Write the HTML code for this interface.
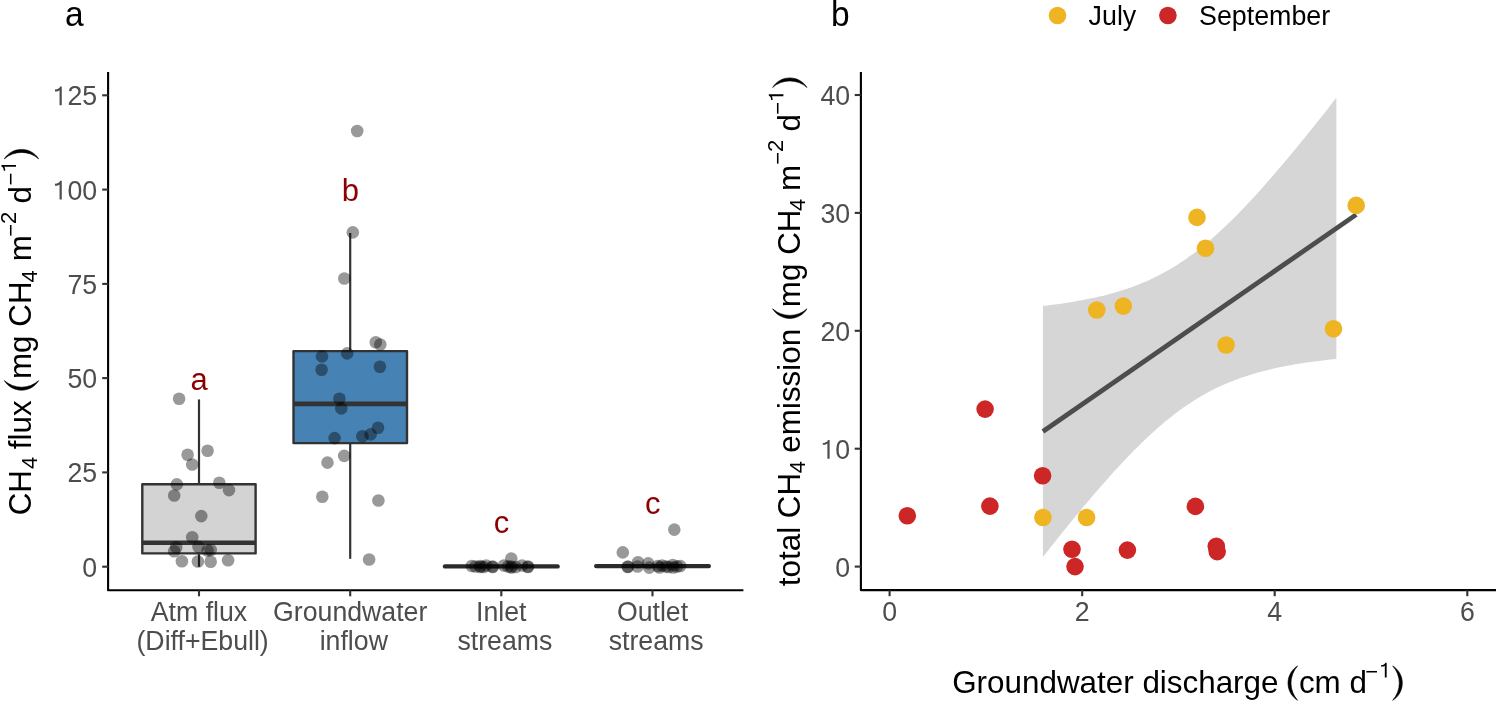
<!DOCTYPE html>
<html><head><meta charset="utf-8"><style>
html,body{margin:0;padding:0;background:#fff;}
svg{display:block;will-change:transform;}
text{font-family:"Liberation Sans", sans-serif;}
</style></head><body>
<svg width="1496" height="701" viewBox="0 0 1496 701">
<rect width="1496" height="701" fill="#fff"/>
<!-- panel labels -->
<text transform="translate(65.0,25.6) scale(1,1.02)" font-size="33.5" fill="#000">a</text>
<text transform="translate(830.9,25.5) scale(1,1.03)" font-size="33.5" fill="#000">b</text>
<!-- LEFT PANEL -->
<line x1="199" y1="399.4" x2="199" y2="484.2" stroke="#333" stroke-width="2.2"/>
<line x1="199" y1="553.4" x2="199" y2="566.8" stroke="#333" stroke-width="2.2"/>
<rect x="142.3" y="484.2" width="113.3" height="69.2" fill="#D3D3D3" stroke="#333" stroke-width="2.4" stroke-linejoin="round"/>
<line x1="142.3" y1="542.7" x2="255.6" y2="542.7" stroke="#333" stroke-width="4.6"/>
<line x1="350.2" y1="233" x2="350.2" y2="351.1" stroke="#333" stroke-width="2.2"/>
<line x1="350.2" y1="443.1" x2="350.2" y2="558.8" stroke="#333" stroke-width="2.2"/>
<rect x="293.5" y="351.1" width="113.5" height="92.0" fill="#4682B4" stroke="#333" stroke-width="2.4" stroke-linejoin="round"/>
<line x1="293.5" y1="403.9" x2="407" y2="403.9" stroke="#333" stroke-width="4.6"/>
<line x1="445" y1="566.4" x2="557.6" y2="566.4" stroke="#2b2b2b" stroke-width="4.4" stroke-linecap="round"/>
<line x1="596.2" y1="566.1" x2="708.8" y2="566.1" stroke="#2b2b2b" stroke-width="4.4" stroke-linecap="round"/>
<g fill="#000" fill-opacity="0.4">
<circle cx="179.1" cy="398.8" r="6.3"/><circle cx="187.6" cy="454.8" r="6.3"/><circle cx="207.6" cy="450.8" r="6.3"/><circle cx="192.2" cy="464.5" r="6.3"/><circle cx="176.8" cy="484.4" r="6.3"/><circle cx="219.3" cy="482.7" r="6.3"/><circle cx="174.2" cy="495.5" r="6.3"/><circle cx="229" cy="490.1" r="6.3"/><circle cx="201.3" cy="516.1" r="6.3"/><circle cx="192.2" cy="537.2" r="6.3"/><circle cx="176.2" cy="547.2" r="6.3"/><circle cx="174.2" cy="551.2" r="6.3"/><circle cx="198.5" cy="546.9" r="6.3"/><circle cx="207.6" cy="550.6" r="6.3"/><circle cx="210.7" cy="550" r="6.3"/><circle cx="181.9" cy="561.2" r="6.3"/><circle cx="197.9" cy="561.5" r="6.3"/><circle cx="210.7" cy="561.7" r="6.3"/><circle cx="228.1" cy="560.3" r="6.3"/><circle cx="357.2" cy="131" r="6.3"/><circle cx="352.8" cy="232.4" r="6.3"/><circle cx="344.3" cy="278.5" r="6.3"/><circle cx="375.8" cy="342.3" r="6.3"/><circle cx="380.3" cy="344.5" r="6.3"/><circle cx="322" cy="356.4" r="6.3"/><circle cx="347.2" cy="353.4" r="6.3"/><circle cx="321.6" cy="369.8" r="6.3"/><circle cx="379.9" cy="366.8" r="6.3"/><circle cx="339.4" cy="398.7" r="6.3"/><circle cx="341.3" cy="408.4" r="6.3"/><circle cx="378" cy="427.7" r="6.3"/><circle cx="370.6" cy="434.4" r="6.3"/><circle cx="362.4" cy="436.2" r="6.3"/><circle cx="334.6" cy="438.1" r="6.3"/><circle cx="344.2" cy="455.9" r="6.3"/><circle cx="327.5" cy="462.6" r="6.3"/><circle cx="322.3" cy="496.8" r="6.3"/><circle cx="378.4" cy="500.5" r="6.3"/><circle cx="369.1" cy="559.5" r="6.3"/><circle cx="471.8" cy="566" r="6.3"/><circle cx="475.5" cy="566.5" r="6.3"/><circle cx="480.3" cy="567" r="6.3"/><circle cx="480.3" cy="566" r="6.3"/><circle cx="483.5" cy="567" r="6.3"/><circle cx="486.2" cy="565.5" r="6.3"/><circle cx="492.6" cy="566.5" r="6.3"/><circle cx="492.6" cy="567" r="6.3"/><circle cx="503.9" cy="565.5" r="6.3"/><circle cx="508.1" cy="566.5" r="6.3"/><circle cx="511.3" cy="558.6" r="6.3"/><circle cx="511.3" cy="566.5" r="6.3"/><circle cx="511.3" cy="567.5" r="6.3"/><circle cx="515.6" cy="567" r="6.3"/><circle cx="522" cy="565.5" r="6.3"/><circle cx="527.9" cy="566.5" r="6.3"/><circle cx="527.9" cy="567" r="6.3"/><circle cx="622.8" cy="552.4" r="6.3"/><circle cx="627.8" cy="566.6" r="6.3"/><circle cx="627.8" cy="567" r="6.3"/><circle cx="638" cy="562.3" r="6.3"/><circle cx="637.5" cy="566.5" r="6.3"/><circle cx="648.2" cy="563.4" r="6.3"/><circle cx="649.2" cy="567.6" r="6.3"/><circle cx="657.8" cy="566" r="6.3"/><circle cx="659.4" cy="567.5" r="6.3"/><circle cx="662" cy="565.5" r="6.3"/><circle cx="665.8" cy="566.5" r="6.3"/><circle cx="668.5" cy="567" r="6.3"/><circle cx="672.8" cy="565" r="6.3"/><circle cx="673.3" cy="567.5" r="6.3"/><circle cx="677" cy="566.5" r="6.3"/><circle cx="680.2" cy="566" r="6.3"/><circle cx="674.3" cy="529.6" r="6.3"/>
</g>
<g fill="#8B0000" font-size="31.0" text-anchor="middle">
<text x="199" y="389.5">a</text>
<text x="350.3" y="201.3">b</text>
<text x="501.4" y="532.8">c</text>
<text x="652.8" y="514">c</text>
</g>
<g stroke="#000" stroke-width="2.1" fill="none">
<path d="M108.1,72 L108.1,590.2 L743.4,590.2" stroke-linejoin="round"/>
</g>
<g stroke="#333" stroke-width="2.1">
<line x1="102.2" y1="566.7" x2="108.3" y2="566.7"/><line x1="102.2" y1="472.4" x2="108.3" y2="472.4"/><line x1="102.2" y1="378.1" x2="108.3" y2="378.1"/><line x1="102.2" y1="283.9" x2="108.3" y2="283.9"/><line x1="102.2" y1="189.6" x2="108.3" y2="189.6"/><line x1="102.2" y1="95.3" x2="108.3" y2="95.3"/>
<line x1="199.0" y1="590.2" x2="199.0" y2="596.3"/><line x1="350.2" y1="590.2" x2="350.2" y2="596.3"/><line x1="501.3" y1="590.2" x2="501.3" y2="596.3"/><line x1="652.5" y1="590.2" x2="652.5" y2="596.3"/>
</g>
<g fill="#4D4D4D" font-size="26.7" text-anchor="end">
<text transform="translate(97.2,576.7) scale(1,1.06)">0</text><text transform="translate(97.2,482.4) scale(1,1.06)">25</text><text transform="translate(97.2,388.1) scale(1,1.06)">50</text><text transform="translate(97.2,293.9) scale(1,1.06)">75</text><path transform="translate(52.66,199.60) scale(26.7,28.302)" d="M0.258,0 L0.341,0 L0.341,-0.662 L0.280,-0.662 C0.262,-0.606 0.200,-0.556 0.086,-0.556 L0.086,-0.490 C0.170,-0.490 0.232,-0.505 0.258,-0.535 Z" fill="#4D4D4D"/><text transform="translate(97.2,199.6) scale(1,1.06)">00</text><path transform="translate(52.66,105.30) scale(26.7,28.302)" d="M0.258,0 L0.341,0 L0.341,-0.662 L0.280,-0.662 C0.262,-0.606 0.200,-0.556 0.086,-0.556 L0.086,-0.490 C0.170,-0.490 0.232,-0.505 0.258,-0.535 Z" fill="#4D4D4D"/><text transform="translate(97.2,105.3) scale(1,1.06)">25</text>
</g>
<g fill="#4D4D4D" font-size="26.7" text-anchor="middle">
<text transform="translate(199,620.6) scale(1,1.06)">Atm flux</text><text transform="translate(202.6,649.6) scale(1,1.06)">(Diff+Ebull)</text>
<text transform="translate(350.2,620.6) scale(1,1.06)">Groundwater</text><text transform="translate(353.8,649.6) scale(1,1.06)">inflow</text>
<text transform="translate(501.3,620.6) scale(1,1.06)">Inlet</text><text transform="translate(504.9,649.6) scale(1,1.06)">streams</text>
<text transform="translate(652.5,620.6) scale(1,1.06)">Outlet</text><text transform="translate(656.1,649.6) scale(1,1.06)">streams</text>
</g>
<!-- left y title -->
<g transform="translate(31.4,0) rotate(-90)" fill="#000">
<text transform="translate(-515.3,0) scale(1,1.0)" font-size="31.4">CH</text>
<text transform="translate(-468.9,5.5) scale(1,1.0)" font-size="22.0">4</text>
<text transform="translate(-449.2,0) scale(1,1.0)" font-size="31.4">flux</text>
<path d="M-380.60,-27.10 A20.21,20.21 0 0 0 -380.60,7.30 A25.71,25.71 0 0 1 -380.60,-27.10 Z" stroke="#000" stroke-width="0.6" stroke-linejoin="round"/>
<text transform="translate(-379.1,0) scale(1,1.0)" font-size="31.4">mg CH</text>
<text transform="translate(-282.5,5.5) scale(1,1.0)" font-size="22.0">4</text>
<text transform="translate(-261.3,0) scale(1,1.0)" font-size="31.4">m</text>
<text transform="translate(-236.8,-13.6) scale(1,1.0)" font-size="22.0">−<tspan dy="-1.8">2</tspan></text>
<text transform="translate(-203.4,0) scale(1,1.0)" font-size="31.4">d</text>
<text transform="translate(-185.4,-13.6) scale(1,1.0)" font-size="22.0">−</text><path transform="translate(-172.55,-15.40) scale(22.0,22.000)" d="M0.258,0 L0.341,0 L0.341,-0.662 L0.280,-0.662 C0.262,-0.606 0.200,-0.556 0.086,-0.556 L0.086,-0.490 C0.170,-0.490 0.232,-0.505 0.258,-0.535 Z" fill="#000"/>
<path d="M-158.90,-27.10 A20.32,20.32 0 0 1 -158.90,7.30 A26.01,26.01 0 0 0 -158.90,-27.10 Z" stroke="#000" stroke-width="0.6" stroke-linejoin="round"/>
</g>
<!-- RIGHT PANEL -->
<path d="M1042.90,305.91 L1046.87,305.45 L1050.83,304.97 L1054.80,304.47 L1058.76,303.94 L1062.73,303.38 L1066.69,302.79 L1070.66,302.17 L1074.63,301.52 L1078.59,300.84 L1082.56,300.12 L1086.52,299.36 L1090.49,298.55 L1094.46,297.71 L1098.42,296.82 L1102.39,295.88 L1106.35,294.89 L1110.32,293.84 L1114.28,292.74 L1118.25,291.57 L1122.22,290.35 L1126.18,289.05 L1130.15,287.68 L1134.11,286.24 L1138.08,284.72 L1142.05,283.12 L1146.01,281.43 L1149.98,279.65 L1153.94,277.78 L1157.91,275.82 L1161.87,273.75 L1165.84,271.59 L1169.81,269.32 L1173.77,266.94 L1177.74,264.46 L1181.70,261.87 L1185.67,259.17 L1189.64,256.36 L1193.60,253.44 L1197.57,250.42 L1201.53,247.28 L1205.50,244.05 L1209.46,240.70 L1213.43,237.26 L1217.40,233.72 L1221.36,230.08 L1225.33,226.36 L1229.29,222.54 L1233.26,218.64 L1237.23,214.66 L1241.19,210.60 L1245.16,206.46 L1249.12,202.26 L1253.09,197.98 L1257.05,193.65 L1261.02,189.25 L1264.99,184.80 L1268.95,180.29 L1272.92,175.73 L1276.88,171.12 L1280.85,166.47 L1284.82,161.78 L1288.78,157.04 L1292.75,152.27 L1296.71,147.46 L1300.68,142.61 L1304.64,137.74 L1308.61,132.83 L1312.58,127.89 L1316.54,122.93 L1320.51,117.94 L1324.47,112.93 L1328.44,107.89 L1332.41,102.84 L1336.37,97.76 L1336.37,358.90 L1332.41,359.31 L1328.44,359.74 L1324.47,360.20 L1320.51,360.67 L1316.54,361.17 L1312.58,361.70 L1308.61,362.25 L1304.64,362.84 L1300.68,363.45 L1296.71,364.09 L1292.75,364.77 L1288.78,365.49 L1284.82,366.24 L1280.85,367.04 L1276.88,367.87 L1272.92,368.76 L1268.95,369.69 L1264.99,370.67 L1261.02,371.70 L1257.05,372.80 L1253.09,373.95 L1249.12,375.17 L1245.16,376.45 L1241.19,377.81 L1237.23,379.23 L1233.26,380.74 L1229.29,382.33 L1225.33,384.00 L1221.36,385.76 L1217.40,387.62 L1213.43,389.57 L1209.46,391.61 L1205.50,393.76 L1201.53,396.01 L1197.57,398.37 L1193.60,400.83 L1189.64,403.40 L1185.67,406.08 L1181.70,408.87 L1177.74,411.77 L1173.77,414.78 L1169.81,417.89 L1165.84,421.11 L1161.87,424.44 L1157.91,427.86 L1153.94,431.39 L1149.98,435.00 L1146.01,438.72 L1142.05,442.52 L1138.08,446.40 L1134.11,450.37 L1130.15,454.42 L1126.18,458.54 L1122.22,462.74 L1118.25,467.00 L1114.28,471.32 L1110.32,475.71 L1106.35,480.15 L1102.39,484.65 L1098.42,489.20 L1094.46,493.80 L1090.49,498.44 L1086.52,503.13 L1082.56,507.86 L1078.59,512.63 L1074.63,517.43 L1070.66,522.27 L1066.69,527.14 L1062.73,532.04 L1058.76,536.97 L1054.80,541.93 L1050.83,546.92 L1046.87,551.92 L1042.90,556.96 Z" fill="#D6D6D6"/>
<line x1="1042.90" y1="431.43" x2="1356.20" y2="214.61" stroke="#4D4D4D" stroke-width="4.8"/>
<g fill="#EEB422">
<circle cx="1197" cy="217.4" r="8.8"/><circle cx="1356.2" cy="205.4" r="8.8"/><circle cx="1205.5" cy="248.2" r="8.8"/><circle cx="1096.8" cy="310" r="8.8"/><circle cx="1123.3" cy="306.1" r="8.8"/><circle cx="1333.5" cy="328.7" r="8.8"/><circle cx="1226.1" cy="345" r="8.8"/><circle cx="1042.9" cy="517.5" r="8.8"/><circle cx="1086.6" cy="517.5" r="8.8"/>
</g>
<g fill="#CD2626">
<circle cx="985.1" cy="409.1" r="8.8"/><circle cx="1042.6" cy="475.8" r="8.8"/><circle cx="989.9" cy="506.1" r="8.8"/><circle cx="907.3" cy="515.7" r="8.8"/><circle cx="1195.4" cy="506.4" r="8.8"/><circle cx="1072" cy="549.2" r="8.8"/><circle cx="1075" cy="566.6" r="8.8"/><circle cx="1127.4" cy="550.1" r="8.8"/><circle cx="1216.3" cy="546.2" r="8.8"/><circle cx="1217.2" cy="551.6" r="8.8"/>
</g>
<path d="M860.9,72 L860.9,590.1 L1496,590.1" stroke="#000" stroke-width="2.1" fill="none" stroke-linejoin="round"/>
<g stroke="#333" stroke-width="2.1">
<line x1="854.7" y1="566.6" x2="860.9" y2="566.6"/><line x1="854.7" y1="448.7" x2="860.9" y2="448.7"/><line x1="854.7" y1="330.8" x2="860.9" y2="330.8"/><line x1="854.7" y1="212.9" x2="860.9" y2="212.9"/><line x1="854.7" y1="95.0" x2="860.9" y2="95.0"/>
<line x1="889.6" y1="590.1" x2="889.6" y2="596.2"/><line x1="1082.2" y1="590.1" x2="1082.2" y2="596.2"/><line x1="1274.7" y1="590.1" x2="1274.7" y2="596.2"/><line x1="1467.3" y1="590.1" x2="1467.3" y2="596.2"/>
</g>
<g fill="#4D4D4D" font-size="26.7" text-anchor="end">
<text transform="translate(850.2,576.6) scale(1,1.06)">0</text><path transform="translate(820.51,458.70) scale(26.7,28.302)" d="M0.258,0 L0.341,0 L0.341,-0.662 L0.280,-0.662 C0.262,-0.606 0.200,-0.556 0.086,-0.556 L0.086,-0.490 C0.170,-0.490 0.232,-0.505 0.258,-0.535 Z" fill="#4D4D4D"/><text transform="translate(850.2,458.7) scale(1,1.06)">0</text><text transform="translate(850.2,340.8) scale(1,1.06)">20</text><text transform="translate(850.2,222.9) scale(1,1.06)">30</text><text transform="translate(850.2,105.0) scale(1,1.06)">40</text>
</g>
<g fill="#4D4D4D" font-size="26.7" text-anchor="middle">
<text transform="translate(889.6,620.6) scale(1,1.06)">0</text><text transform="translate(1082.2,620.6) scale(1,1.06)">2</text><text transform="translate(1274.7,620.6) scale(1,1.06)">4</text><text transform="translate(1467.3,620.6) scale(1,1.06)">6</text>
</g>
<!-- x title -->
<g fill="#000">
<text transform="translate(952.2,693) scale(1,1.0)" font-size="31.4">Groundwater discharge</text>
<path d="M1297.60,665.90 A20.21,20.21 0 0 0 1297.60,700.30 A25.71,25.71 0 0 1 1297.60,665.90 Z" stroke="#000" stroke-width="0.6" stroke-linejoin="round"/>
<text transform="translate(1298.9,693) scale(1,1.0)" font-size="31.4">cm d</text>
<text transform="translate(1365.3,679.4) scale(1,1.0)" font-size="22.0">−</text><path transform="translate(1379.15,677.40) scale(22.0,22.000)" d="M0.258,0 L0.341,0 L0.341,-0.662 L0.280,-0.662 C0.262,-0.606 0.200,-0.556 0.086,-0.556 L0.086,-0.490 C0.170,-0.490 0.232,-0.505 0.258,-0.535 Z" fill="#000"/>
<path d="M1392.70,665.90 A20.21,20.21 0 0 1 1392.70,700.30 A25.71,25.71 0 0 0 1392.70,665.90 Z" stroke="#000" stroke-width="0.6" stroke-linejoin="round"/>
</g>
<!-- right y title -->
<g transform="translate(799.7,0) rotate(-90)" fill="#000">
<text transform="translate(-586.2,0) scale(1,1.0)" font-size="31.4">total CH</text>
<text transform="translate(-473.3,5.5) scale(1,1.0)" font-size="22.0">4</text>
<text transform="translate(-452.7,0) scale(1,1.0)" font-size="31.4">emission</text>
<path d="M-308.80,-27.10 A20.21,20.21 0 0 0 -308.80,7.30 A25.71,25.71 0 0 1 -308.80,-27.10 Z" stroke="#000" stroke-width="0.6" stroke-linejoin="round"/>
<text transform="translate(-307.2,0) scale(1,1.0)" font-size="31.4">mg CH</text>
<text transform="translate(-211.0,5.5) scale(1,1.0)" font-size="22.0">4</text>
<text transform="translate(-190.9,0) scale(1,1.0)" font-size="31.4">m</text>
<text transform="translate(-164.8,-15.0) scale(1,1.0)" font-size="22.0">−<tspan dy="-1.3">2</tspan></text>
<text transform="translate(-131.6,0) scale(1,1.0)" font-size="31.4">d</text>
<text transform="translate(-114.7,-15.0) scale(1,1.0)" font-size="22.0">−</text><path transform="translate(-101.85,-16.30) scale(22.0,22.000)" d="M0.258,0 L0.341,0 L0.341,-0.662 L0.280,-0.662 C0.262,-0.606 0.200,-0.556 0.086,-0.556 L0.086,-0.490 C0.170,-0.490 0.232,-0.505 0.258,-0.535 Z" fill="#000"/>
<path d="M-87.50,-27.10 A20.21,20.21 0 0 1 -87.50,7.30 A25.71,25.71 0 0 0 -87.50,-27.10 Z" stroke="#000" stroke-width="0.6" stroke-linejoin="round"/>
</g>
<!-- legend -->
<circle cx="1057.5" cy="15.5" r="8.8" fill="#EEB422"/>
<circle cx="1167.9" cy="15.5" r="8.8" fill="#CD2626"/>
<g fill="#000" font-size="26.8">
<text x="1088.6" y="24.5">July</text>
<text x="1199.1" y="24.5">September</text>
</g>
</svg>
</body></html>
